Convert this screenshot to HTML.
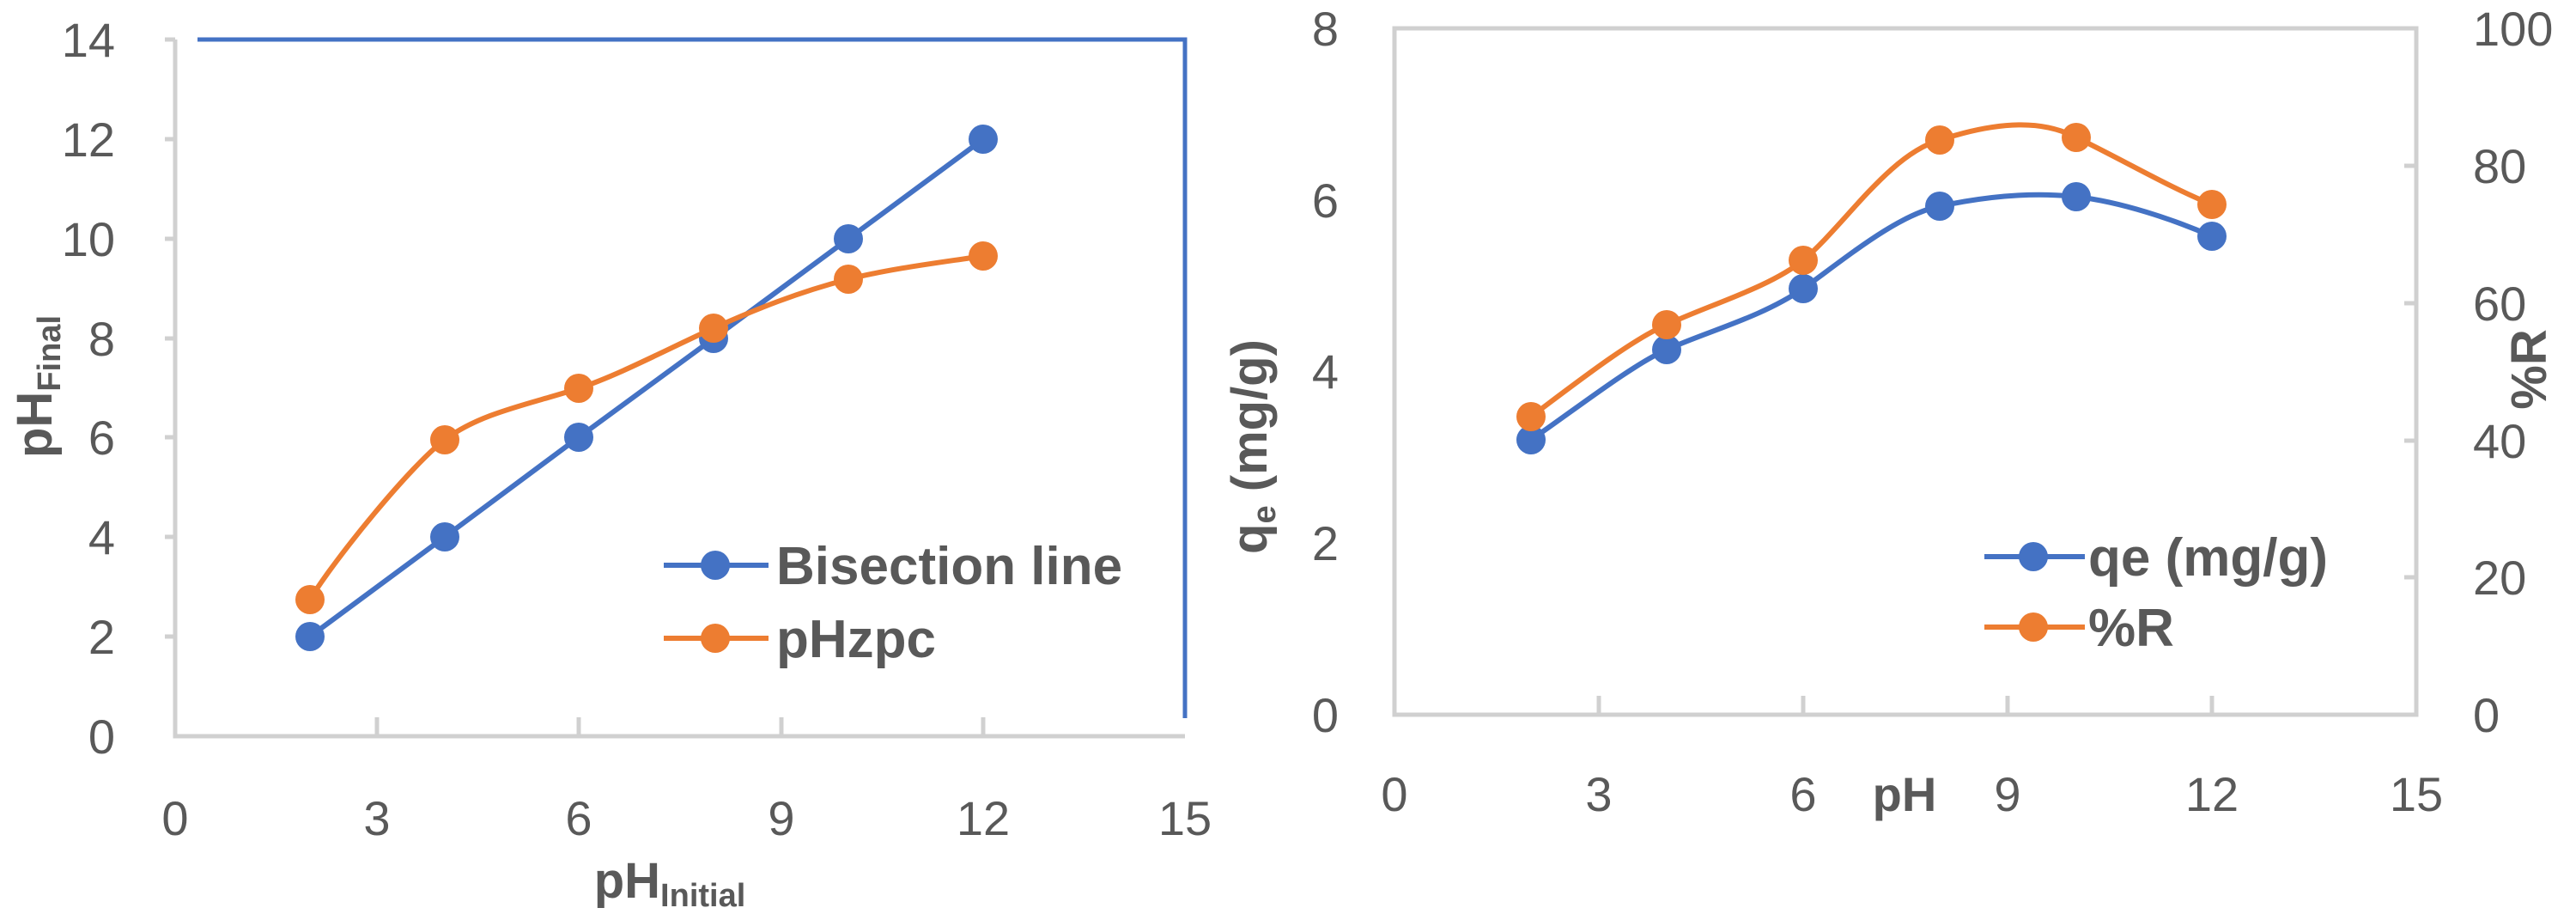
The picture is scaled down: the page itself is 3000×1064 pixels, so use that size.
<!DOCTYPE html>
<html><head><meta charset="utf-8"><style>html,body{margin:0;padding:0;background:#fff}svg{display:block}</style></head><body>
<svg width="3000" height="1064" viewBox="0 0 3000 1064" xmlns="http://www.w3.org/2000/svg" font-family="Liberation Sans, sans-serif" fill="#595959">
<!-- LEFT CHART -->
<g stroke="#d0d0d0" stroke-width="5" fill="none">
<path d="M204 46 V857 H1380"/>
<path d="M439 857 v-22 M674 857 v-22 M910 857 v-22 M1145 857 v-22"/>
<path d="M204 46 h-12 M204 162 h-12 M204 278 h-12 M204 394 h-12 M204 509 h-12 M204 625 h-12 M204 741 h-12"/>
</g>
<path d="M230 46 H1380 V836" stroke="#4472c4" stroke-width="5" fill="none"/>
<g font-size="56" text-anchor="end">
<text x="134" y="66">14</text><text x="134" y="182">12</text><text x="134" y="298">10</text><text x="134" y="414">8</text><text x="134" y="529">6</text><text x="134" y="645">4</text><text x="134" y="761">2</text><text x="134" y="877">0</text>
</g>
<g font-size="56" text-anchor="middle">
<text x="204" y="972">0</text><text x="439" y="972">3</text><text x="674" y="972">6</text><text x="910" y="972">9</text><text x="1145" y="972">12</text><text x="1380" y="972">15</text>
</g>
<text x="780" y="1045" font-size="58" font-weight="bold" text-anchor="middle">pH<tspan font-size="38" dy="10">Initial</tspan></text>
<text transform="translate(60,450) rotate(-90)" font-size="58" font-weight="bold" text-anchor="middle">pH<tspan font-size="38" dy="10">Final</tspan></text>
<polyline points="361,741 518,625 674,509 831,394 988,278 1145,162" stroke="#4472c4" stroke-width="6" fill="none"/>
<g fill="#4472c4"><circle cx="361" cy="741" r="17"/><circle cx="518" cy="625" r="17"/><circle cx="674" cy="509" r="17"/><circle cx="831" cy="394" r="17"/><circle cx="988" cy="278" r="17"/><circle cx="1145" cy="162" r="17"/></g>
<path d="M361 698 C390 650,480 540,518 512 C560 480,620 470,674 452 C720 437,780 405,831 382 C880 360,930 340,988 325 C1040 312,1100 305,1145 298" stroke="#ed7d31" stroke-width="6" fill="none"/>
<g fill="#ed7d31"><circle cx="361" cy="698" r="17"/><circle cx="518" cy="512" r="17"/><circle cx="674" cy="452" r="17"/><circle cx="831" cy="382" r="17"/><circle cx="988" cy="325" r="17"/><circle cx="1145" cy="298" r="17"/></g>
<line x1="773" y1="658" x2="895" y2="658" stroke="#4472c4" stroke-width="6"/><circle cx="833" cy="658" r="17" fill="#4472c4"/>
<text x="904" y="680" font-size="62" font-weight="bold">Bisection line</text>
<line x1="773" y1="743" x2="895" y2="743" stroke="#ed7d31" stroke-width="6"/><circle cx="833" cy="743" r="17" fill="#ed7d31"/>
<text x="904" y="765" font-size="62" font-weight="bold">pHzpc</text>
<!-- RIGHT CHART -->
<g stroke="#d0d0d0" stroke-width="5" fill="none">
<rect x="1624" y="33" width="1190" height="799"/>
<path d="M1862 832 v-22 M2100 832 v-22 M2338 832 v-22 M2576 832 v-22"/>
<path d="M2814 193 h-14 M2814 353 h-14 M2814 513 h-14 M2814 672 h-14"/>
</g>
<g font-size="56" text-anchor="end">
<text x="1559" y="53">8</text><text x="1559" y="253">6</text><text x="1559" y="452">4</text><text x="1559" y="652">2</text><text x="1559" y="852">0</text>
</g>
<g font-size="56">
<text x="2880" y="53">100</text><text x="2880" y="213">80</text><text x="2880" y="373">60</text><text x="2880" y="533">40</text><text x="2880" y="692">20</text><text x="2880" y="852">0</text>
</g>
<g font-size="56" text-anchor="middle">
<text x="1624" y="944">0</text><text x="1862" y="944">3</text><text x="2100" y="944">6</text><text x="2338" y="944">9</text><text x="2576" y="944">12</text><text x="2814" y="944">15</text>
</g>
<text x="2218" y="944" font-size="56" font-weight="bold" text-anchor="middle">pH</text>
<text transform="translate(1475,520) rotate(-90)" font-size="58" font-weight="bold" text-anchor="middle">q<tspan font-size="38" dy="10">e</tspan><tspan dy="-10"> (mg/g)</tspan></text>
<text transform="translate(2965,430) rotate(-90)" font-size="58" font-weight="bold" text-anchor="middle">%R</text>
<path d="M1783 512 C1830 480,1900 425,1941 407 C1990 385,2050 370,2100 336 C2150 300,2210 250,2259 240 C2330 225,2380 225,2418 229 C2470 235,2530 255,2576 275" stroke="#4472c4" stroke-width="6" fill="none"/>
<g fill="#4472c4"><circle cx="1783" cy="512" r="17"/><circle cx="1941" cy="407" r="17"/><circle cx="2100" cy="336" r="17"/><circle cx="2259" cy="240" r="17"/><circle cx="2418" cy="229" r="17"/><circle cx="2576" cy="275" r="17"/></g>
<path d="M1783 485 C1830 450,1900 395,1941 378 C1990 355,2060 335,2100 303 C2150 260,2200 180,2259 163 C2330 140,2380 140,2418 160 C2470 185,2530 220,2576 238" stroke="#ed7d31" stroke-width="6" fill="none"/>
<g fill="#ed7d31"><circle cx="1783" cy="485" r="17"/><circle cx="1941" cy="378" r="17"/><circle cx="2100" cy="303" r="17"/><circle cx="2259" cy="163" r="17"/><circle cx="2418" cy="160" r="17"/><circle cx="2576" cy="238" r="17"/></g>
<line x1="2311" y1="648" x2="2428" y2="648" stroke="#4472c4" stroke-width="6"/><circle cx="2368" cy="648" r="17" fill="#4472c4"/>
<text x="2432" y="670" font-size="62" font-weight="bold">qe (mg/g)</text>
<line x1="2311" y1="730" x2="2428" y2="730" stroke="#ed7d31" stroke-width="6"/><circle cx="2368" cy="730" r="17" fill="#ed7d31"/>
<text x="2432" y="752" font-size="62" font-weight="bold">%R</text>
</svg>
</body></html>
